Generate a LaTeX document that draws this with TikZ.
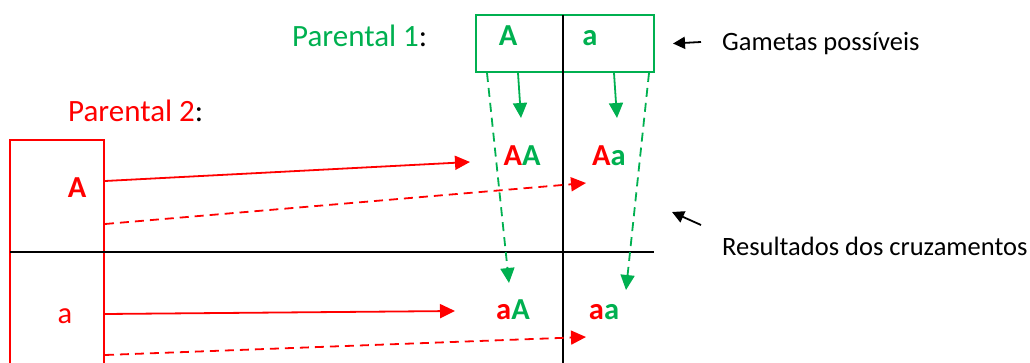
\documentclass[tikz,border=0pt]{standalone}
\usepackage{fontspec}
\setmainfont{Carlito}
\usepackage{xcolor}
\usetikzlibrary{arrows.meta,positioning}
\definecolor{gengreen}{HTML}{00B050}
\definecolor{genred}{HTML}{FF0000}

\begin{document}
\begin{tikzpicture}[
    x=1pt, y=-1pt,
    gambox/.style={draw=gengreen, line width=2pt, inner sep=0pt,
                   minimum width=178pt, minimum height=57pt},
    parbox/.style={draw=genred, line width=2pt, inner sep=0pt,
                   minimum width=94pt, minimum height=250pt},
    par/.style={font=\fontsize{31}{35}\selectfont, anchor=base west, inner sep=0pt},
    lbl/.style={font=\fontsize{26.5}{30}\selectfont, anchor=base west, inner sep=0pt},
    allele/.style={font=\fontsize{30.5}{34}\selectfont\bfseries, anchor=base, inner sep=0pt},
    cross/.style={font=\fontsize{30.5}{34}\selectfont\bfseries, anchor=base, inner sep=0pt},
    gridline/.style={line width=2pt},
    redarr/.style={-{Triangle[length=15pt,width=14pt]}, genred, line width=1.8pt},
    greenarr/.style={-{Triangle[length=15pt,width=14pt]}, gengreen, line width=1.8pt},
    blkarr/.style={-{Triangle[length=12pt,width=12pt]}, line width=1.8pt},
    dsh/.style={dash pattern=on 9pt off 6pt}
]
\useasboundingbox (0,0) rectangle (1030,363);

% parents
\node[par, text=gengreen] (par1) at (292,47) {Parental 1\textcolor{black}{:}};
\node[par, text=genred] (par2) at (68,122) {Parental 2\textcolor{black}{:}};

\node[gambox] (gam1) at (565,43.5) {};
\node[allele, text=gengreen] (g1A) at (508,46) {A};
\node[allele, text=gengreen] (g1a) at (590,46) {a};

\node[parbox] (gam2) at (57,265) {};
\node[allele, text=genred] (g2A) at (77,198) {A};
\node[allele, text=genred, font=\fontsize{30.5}{34}\selectfont] (g2a) at (65,323) {a};

% punnett grid
\coordinate (vtop) at (563,15);
\coordinate (vbot) at (563,363);
\coordinate (hleft) at (10,252);
\coordinate (hright) at (654,252);
\draw[gridline] (vtop) -- (vbot);
\draw[gridline] (hleft) -- (hright);

% crosses
\node[cross] (AA) at (522,166) {\textcolor{genred}{A}\textcolor{gengreen}{A}};
\node[cross] (Aa) at (609,166) {\textcolor{genred}{A}\textcolor{gengreen}{a}};
\node[cross] (aA) at (513,319) {\textcolor{genred}{a}\textcolor{gengreen}{A}};
\node[cross] (aa) at (604,319) {\textcolor{genred}{a}\textcolor{gengreen}{a}};

% arrow tips
\coordinate (tAA) at (470,162);
\coordinate (tAa) at (586,183);
\coordinate (taA) at (455,311);
\coordinate (taa) at (586,337);
\coordinate (gAA) at (521,118);
\coordinate (gAa) at (617,118);
\coordinate (gaA) at (509,283);
\coordinate (gaa) at (626,290);

\draw[greenarr] ([xshift=43pt]gam1.south west) -- (gAA);
\draw[greenarr] ([xshift=139pt]gam1.south west) -- (gAa);
\draw[greenarr, dsh] ([xshift=12pt]gam1.south west) -- (gaA);
\draw[greenarr, dsh] ([xshift=-6pt]gam1.south east) -- (gaa);

\draw[redarr] ([yshift=-42pt]gam2.north east) -- (tAA);
\draw[redarr, dsh] ([yshift=-85pt]gam2.north east) -- (tAa);
\draw[redarr] ([yshift=-175pt]gam2.north east) -- (taA);
\draw[redarr, dsh] ([yshift=-216pt]gam2.north east) -- (taa);

% notes
\node[lbl] (gamtxt) at (722,51) {Gametas possíveis};
\node[lbl] (restxt) at (722,256) {Resultados dos cruzamentos};
\coordinate (bGam) at (701,42);
\coordinate (bRes) at (701,225);
\draw[blkarr] (bGam) -- ([xshift=18pt]gam1.east);
\draw[blkarr] (bRes) -- (672,212);

\end{tikzpicture}
\end{document}
